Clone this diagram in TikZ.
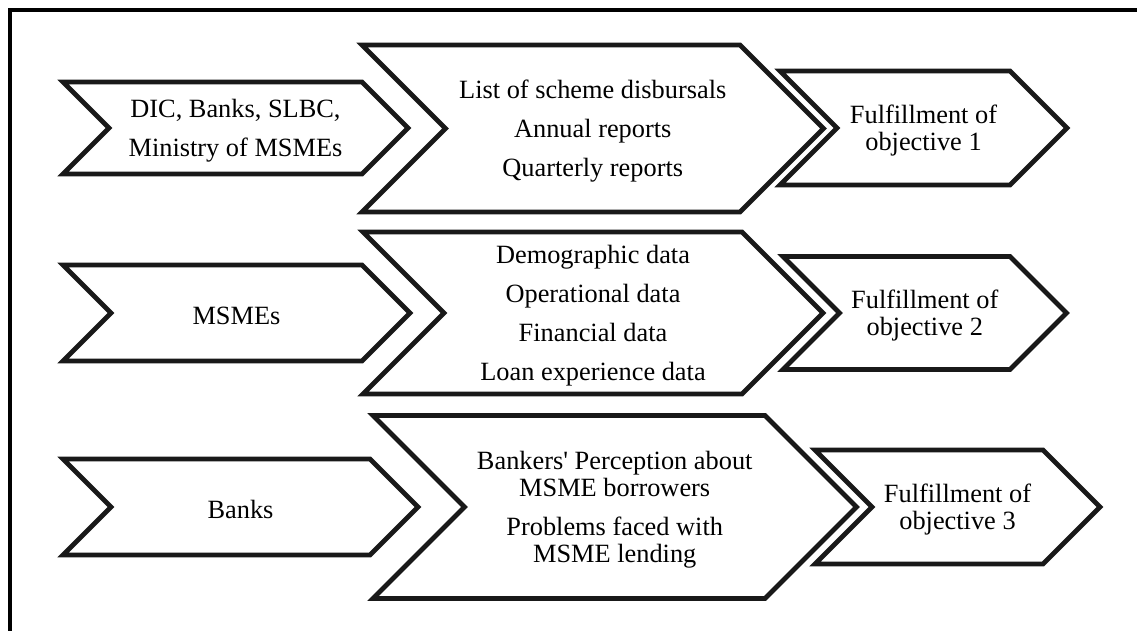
\documentclass[tikz,border=0pt]{standalone}
\usepackage{fontspec}
\setmainfont{Liberation Serif}
\newfontfamily\plainserif{Liberation Serif}
\usetikzlibrary{calc}
\tikzstyle{frame}=[draw=black, line width=2.7pt]
\tikzstyle{chev}=[draw=black!90, line width=2.7pt, fill=white, line join=miter]
\tikzstyle{lbl}=[align=center, inner sep=0pt, yshift=-1.6pt, font=\fontsize{15}{15.6}\selectfont]
\tikzstyle{list}=[lbl, font=\fontsize{15}{22.3}\selectfont]

% #1 label style, #2 name, #3 left x, #4 shoulder x, #5 centre y, #6 half height, #7 text
\newcommand{\chevron}[7][lbl]{%
  \draw[chev] (#3,#5-#6) -- (#4,#5-#6) -- (#4+#6,#5) -- (#4,#5+#6)
    -- (#3,#5+#6) -- (#3+#6,#5) -- cycle;
  \node[#1] (#2) at ({(#3+#6+#4)/2},#5) {#7};
}

\begin{document}
\begin{tikzpicture}[x=0.02cm, y=-0.02cm]
\useasboundingbox (0,0) rectangle (1137,630);
\clip (0,0) rectangle (1137,630);
\draw[frame] (10,10) rectangle (1160,660);
% sources
\chevron[list]{dic}{63}{362}{128}{46}{DIC, Banks, SLBC,\\Ministry of MSMEs}
\chevron{msme}{63}{362}{313}{48}{MSMEs}
\chevron{banks}{63}{370}{507}{48}{Banks}
% data collected
\chevron[list]{reports}{362}{740}{128.5}{83.5}
  {List of scheme disbursals\\Annual reports\\Quarterly reports}
\chevron[list]{survey}{363}{742}{313}{81}
  {Demographic data\\Operational data\\Financial data\\Loan experience data}
\chevron{perception}{373}{765}{507}{91.5}
  {Bankers{\plainserif'} Perception about\\MSME borrowers\\[6.5pt]Problems faced with\\MSME lending}
% objectives
\chevron{obj1}{780}{1010}{128}{57}{Fulfillment of\\objective 1}
\chevron{obj2}{783}{1010}{313}{56.5}{Fulfillment of\\objective 2}
\chevron{obj3}{815}{1043}{507}{57}{Fulfillment of\\objective 3}
\end{tikzpicture}
\end{document}
